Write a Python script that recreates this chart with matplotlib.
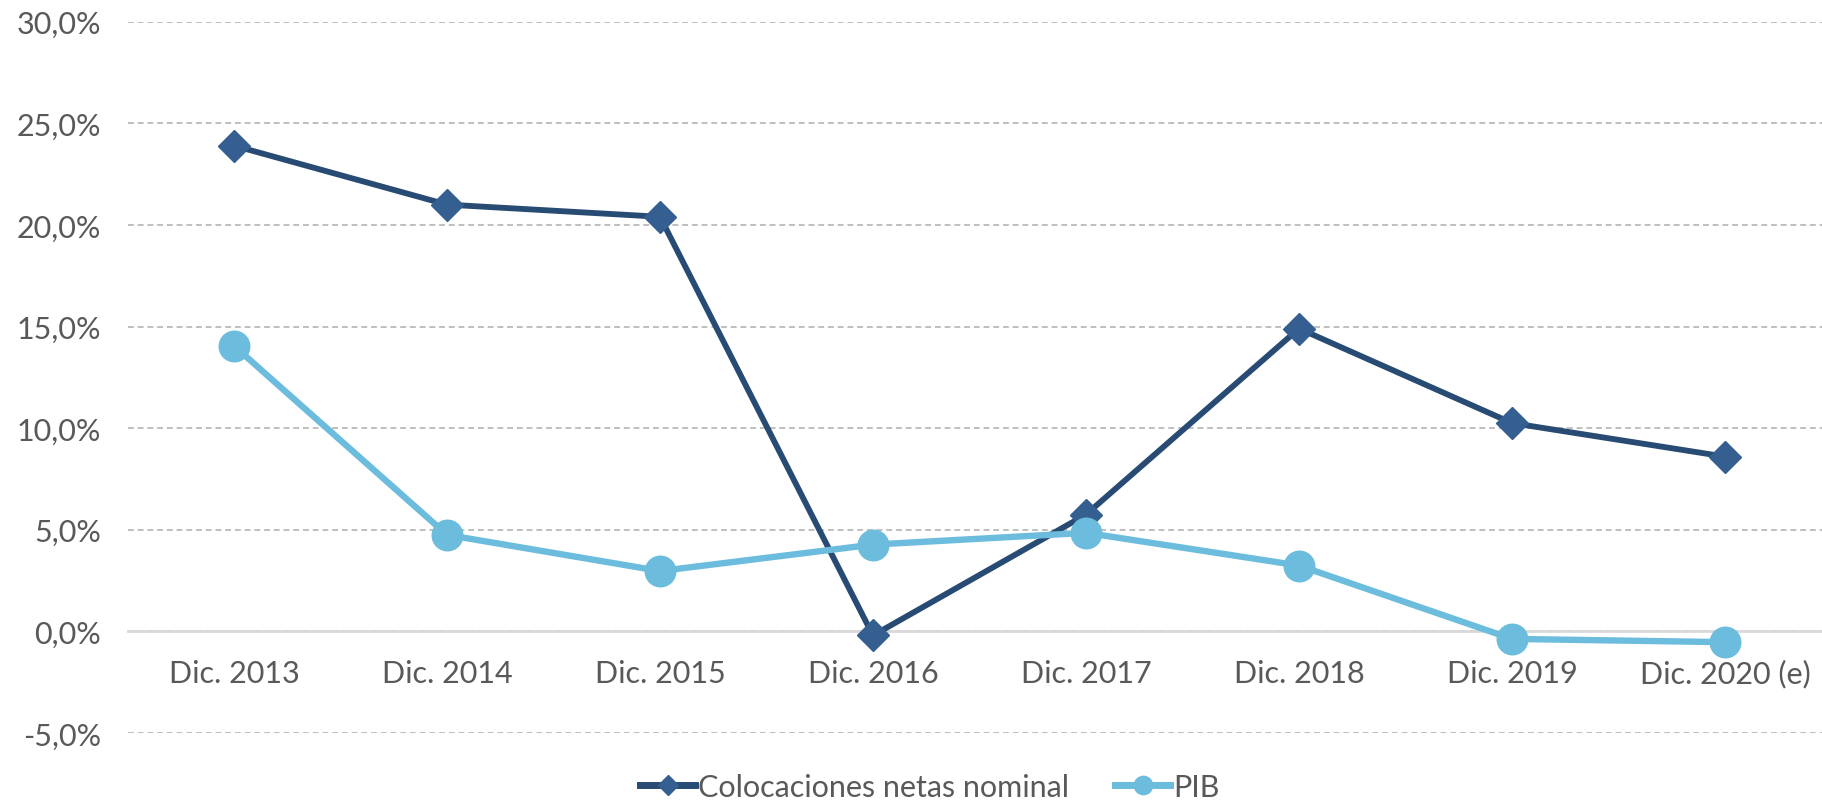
import matplotlib.pyplot as plt
from matplotlib.ticker import FuncFormatter

plt.rcParams['font.family'] = ['Lato', 'DejaVu Sans']

categorias = ["Dic. 2013", "Dic. 2014", "Dic. 2015", "Dic. 2016",
              "Dic. 2017", "Dic. 2018", "Dic. 2019", "Dic. 2020 (e)"]
colocaciones = [23.9, 21.0, 20.4, -0.2, 5.75, 14.9, 10.25, 8.6]
pib = [14.05, 4.75, 2.97, 4.27, 4.85, 3.24, -0.37, -0.53]
y_ticks = [-5, 0, 5, 10, 15, 20, 25, 30]

gris = '#595959'

fig = plt.figure(figsize=(18.22, 8.03), dpi=100)
ax = fig.add_axes([127.5 / 1822, 1 - 734 / 803, 1704 / 1822, (734 - 22.7) / 803])

x = list(range(len(categorias)))
ax.plot(x, colocaciones, color='#284b74', lw=4.2, marker='D', ms=16.5,
        markerfacecolor='#365f91', markeredgecolor='#365f91',
        label='Colocaciones netas nominal', zorder=3)
ax.plot(x, pib, color='#6bbcdd', lw=4.6, marker='o', ms=22,
        markerfacecolor='#6bbcdd', markeredgecolor='#6bbcdd',
        label='PIB', zorder=4)

ax.set_xlim(-0.5, 7.5)
ax.set_ylim(-5, 30)
ax.set_yticks(y_ticks)
ax.yaxis.set_major_formatter(FuncFormatter(lambda v, p: f"{v:.1f}%".replace('.', ',')))
ax.set_xticks(x)
ax.set_xticklabels(categorias, va='baseline')

ax.grid(axis='y', color='#bfbfbf', linestyle=(0, (3, 2)), lw=1.4, zorder=0)
ax.set_axisbelow(True)

for s in ['top', 'right', 'left']:
    ax.spines[s].set_visible(False)
ax.spines['bottom'].set_position(('data', 0))
ax.spines['bottom'].set_color('#d9d9d9')
ax.spines['bottom'].set_linewidth(2)
ax.spines['bottom'].set_zorder(1)

ax.tick_params(axis='y', length=0, pad=19, labelsize=22, labelcolor=gris)
ax.tick_params(axis='x', length=0, pad=20, labelsize=22, labelcolor=gris)

leg = fig.legend(loc='center', bbox_to_anchor=(930 / 1822, 1 - 788 / 803), ncol=2,
                 frameon=False, fontsize=22, handlelength=1.8, handletextpad=0.1,
                 columnspacing=1.5, markerscale=0.6, labelcolor=gris)
for h in leg.legend_handles:
    h.set_linewidth(5)

fig.savefig('out.png', dpi=100)
